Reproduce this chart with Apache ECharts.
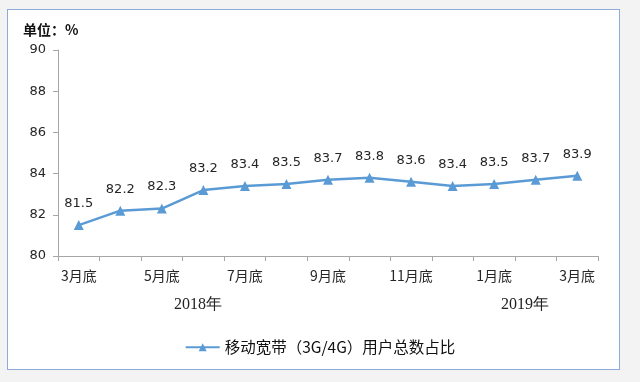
<!DOCTYPE html>
<html><head><meta charset="utf-8">
<script src="https://cdn.jsdelivr.net/npm/echarts@6/dist/echarts.min.js"></script>
<style>html,body{margin:0;padding:0;background:#f3f3f3;}
#frame{position:absolute;left:7px;top:9px;width:611px;height:359px;border:1px solid #8eaad8;background:#fff;}
#c{position:absolute;left:0;top:0;width:640px;height:382px;}</style>
</head><body><div id="frame"></div><div id="c"></div>
<script>
const categories = ['3月底','4月底','5月底','6月底','7月底','8月底','9月底','10月底','11月底','12月底','1月底','2月底','3月底'];
const values = [81.5,82.2,82.3,83.2,83.4,83.5,83.7,83.8,83.6,83.4,83.5,83.7,83.9];
const seriesName = '移动宽带（3G/4G）用户总数占比';
const yearLabels = ['2018年','2019年'];
const chart = echarts.init(document.getElementById('c'));
const txt = '#262626';
chart.setOption({
  animation:false,
  backgroundColor:'transparent',
  title:{text:'单位：%',left:18,top:18,textStyle:{fontSize:14,fontWeight:'bold',color:'#111',fontFamily:'Noto Sans CJK SC'}},
  grid:{left:58,right:42,top:50,bottom:126},
  xAxis:{type:'category',data:categories,boundaryGap:true,
    axisLine:{lineStyle:{color:'#a6a6a6'}},
    axisTick:{show:true,length:5,interval:0,lineStyle:{color:'#a6a6a6'}},
    axisLabel:{interval:1,color:txt,fontSize:14,margin:13,fontFamily:'Noto Sans CJK SC'}},
  yAxis:{type:'value',min:80,max:90,interval:2,
    axisLine:{show:true,lineStyle:{color:'#a6a6a6'}},
    axisTick:{show:true,length:5,lineStyle:{color:'#a6a6a6'}},
    splitLine:{show:false},
    axisLabel:{color:txt,fontSize:13,margin:12,fontFamily:'DejaVu Sans'}},
  legend:{bottom:22,left:'center',itemWidth:34,itemHeight:10,itemGap:10,
    textStyle:{fontSize:15.5,color:'#111',fontFamily:'Noto Sans CJK SC'},
    data:[seriesName]},
  graphic:[
    {type:'text',left:174,top:297,style:{text:yearLabels[0],fontSize:16,fill:'#222',fontFamily:'Liberation Serif'}},
    {type:'text',left:501,top:297,style:{text:yearLabels[1],fontSize:16,fill:'#222',fontFamily:'Liberation Serif'}}
  ],
  series:[{name:seriesName,type:'line',data:values,
    symbol:'triangle',symbolSize:10,
    lineStyle:{color:'#5b9bd5',width:2.5},
    itemStyle:{color:'#5b9bd5'},
    label:{show:true,position:'top',distance:10,color:txt,fontSize:13,fontFamily:'DejaVu Sans',formatter:p=>p.value.toFixed(1)}}]
});
</script></body></html>
